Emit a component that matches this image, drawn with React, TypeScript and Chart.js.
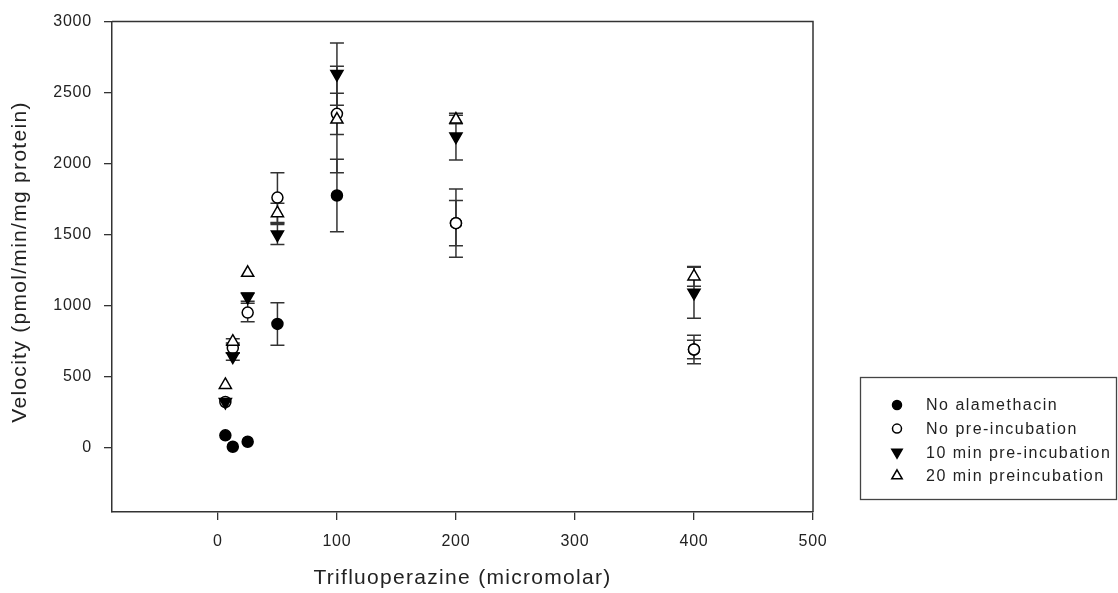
import React, { useEffect, useRef } from 'react';
import { Chart, registerables } from 'chart.js';

Chart.register(...registerables);

// ---- data ----
const concentrations = [6.25, 12.5, 25, 50, 100, 200, 400];

const noAlamethacin = [85, 5, 40, 870, 1775, 1580, 690];
const noAlamethacinErr = [0, 0, 0, 150, 255, 160, 100];

const noPreincubation = [320, 700, 950, 1760, 2350, 1580, 690];
const noPreincubationErr = [0, 35, 65, 175, 145, 240, 65];

const min10Preincubation = [320, 640, 1060, 1500, 2630, 2190, 1090];
const min10PreincubationErr = [0, 25, 30, 70, 220, 165, 180];

const min20Preincubation = [440, 745, 1230, 1650, 2310, 2310, 1205];
const min20PreincubationErr = [0, 20, 0, 70, 375, 30, 70];

const seriesLabels = [
  'No alamethacin',
  'No pre-incubation',
  '10 min pre-incubation',
  '20 min preincubation',
];

const xTickValues = [0, 100, 200, 300, 400, 500];
const yTickValues = [0, 500, 1000, 1500, 2000, 2500, 3000];

const xTitle = 'Trifluoperazine (micromolar)';
const yTitle = 'Velocity (pmol/min/mg protein)';

const FONT = "'Liberation Sans', Arial, sans-serif";
const INK = '#222222';
const AXIS = '#333333';

type Marker = { style: 'circle' | 'triangle'; rotation: number; filled: boolean; radius: number };
const markers: Marker[] = [
  { style: 'circle', rotation: 0, filled: true, radius: 5.5 },
  { style: 'circle', rotation: 0, filled: false, radius: 5.5 },
  { style: 'triangle', rotation: 180, filled: true, radius: 7 },
  { style: 'triangle', rotation: 0, filled: false, radius: 7 },
];

function drawMarker(ctx: CanvasRenderingContext2D, m: Marker, x: number, y: number) {
  ctx.save();
  ctx.beginPath();
  if (m.style === 'circle') {
    ctx.arc(x, y, m.radius, 0, Math.PI * 2);
  } else {
    const r = m.radius;
    let rad = (m.rotation * Math.PI) / 180;
    ctx.moveTo(x + Math.sin(rad) * r, y - Math.cos(rad) * r);
    rad += (2 * Math.PI) / 3;
    ctx.lineTo(x + Math.sin(rad) * r, y - Math.cos(rad) * r);
    rad += (2 * Math.PI) / 3;
    ctx.lineTo(x + Math.sin(rad) * r, y - Math.cos(rad) * r);
    ctx.closePath();
  }
  ctx.fillStyle = m.filled ? '#000000' : '#ffffff';
  ctx.fill();
  ctx.lineWidth = 1.5;
  ctx.strokeStyle = '#000000';
  ctx.stroke();
  ctx.restore();
}

const errors = [noAlamethacinErr, noPreincubationErr, min10PreincubationErr, min20PreincubationErr];

const textSpacingPlugin = {
  id: 'textSpacing',
  beforeDraw(chart: any) {
    (chart.ctx as any).letterSpacing = '0.8px';
  },
};

const errorBarPlugin = {
  id: 'errorBars',
  beforeDatasetsDraw(chart: any) {
    const ctx: CanvasRenderingContext2D = chart.ctx;
    const xs = chart.scales.x;
    const ys = chart.scales.y;
    ctx.save();
    ctx.strokeStyle = AXIS;
    ctx.lineWidth = 1.5;
    chart.data.datasets.forEach((ds: any, i: number) => {
      const err = errors[i];
      ds.data.forEach((p: any, j: number) => {
        const e = err[j];
        if (!e) return;
        const px = xs.getPixelForValue(p.x);
        const top = ys.getPixelForValue(p.y + e);
        const bot = ys.getPixelForValue(p.y - e);
        ctx.beginPath();
        ctx.moveTo(px, top);
        ctx.lineTo(px, bot);
        ctx.moveTo(px - 7, top);
        ctx.lineTo(px + 7, top);
        ctx.moveTo(px - 7, bot);
        ctx.lineTo(px + 7, bot);
        ctx.stroke();
      });
    });
    ctx.restore();
  },
};

const frameAndLegendPlugin = {
  id: 'frameLegend',
  afterDraw(chart: any) {
    const ctx: CanvasRenderingContext2D = chart.ctx;
    const a = chart.chartArea;
    ctx.save();
    ctx.strokeStyle = AXIS;
    ctx.lineWidth = 1.5;
    ctx.beginPath();
    ctx.moveTo(a.left, a.top);
    ctx.lineTo(a.right, a.top);
    ctx.lineTo(a.right, a.bottom);
    ctx.stroke();

    // axis titles
    ctx.fillStyle = INK;
    ctx.font = `21px ${FONT}`;
    (ctx as any).letterSpacing = '1.3px';
    ctx.textAlign = 'center';
    ctx.textBaseline = 'middle';
    ctx.fillText(xTitle, (a.left + a.right) / 2, 578);
    ctx.save();
    ctx.translate(20, 262);
    ctx.rotate(-Math.PI / 2);
    ctx.fillText(yTitle, 0, 0);
    ctx.restore();

    // legend box
    const bx = 860.5;
    const by = 377.5;
    const bw = 256;
    const bh = 122;
    ctx.strokeStyle = '#444444';
    ctx.lineWidth = 1.3;
    ctx.strokeRect(bx, by, bw, bh);
    ctx.font = `16px ${FONT}`;
    (ctx as any).letterSpacing = '1.5px';
    ctx.textBaseline = 'middle';
    ctx.textAlign = 'left';
    seriesLabels.forEach((label, i) => {
      const y = 405 + i * 23.6;
      const m = { ...markers[i], radius: markers[i].style === 'circle' ? 4.5 : 6 };
      drawMarker(ctx, m, 897, y);
      ctx.fillStyle = INK;
      ctx.fillText(label, 926, y + 1);
    });
    ctx.restore();
  },
};

const seriesValues = [noAlamethacin, noPreincubation, min10Preincubation, min20Preincubation];

export default function App() {
  const canvasRef = useRef<HTMLCanvasElement | null>(null);

  useEffect(() => {
    if (!canvasRef.current) return;
    const datasets = seriesValues.map((vals, i) => ({
      label: seriesLabels[i],
      data: vals.map((v, j) => ({ x: concentrations[j], y: v })),
      showLine: false,
      pointStyle: markers[i].style,
      pointRotation: markers[i].rotation,
      pointRadius: markers[i].radius,
      pointHoverRadius: markers[i].radius,
      pointBackgroundColor: markers[i].filled ? '#000000' : '#ffffff',
      pointBorderColor: '#000000',
      pointBorderWidth: 1.5,
      order: 3 - i,
    }));

    const chart = new Chart(canvasRef.current, {
      type: 'scatter',
      data: { datasets },
      plugins: [textSpacingPlugin, errorBarPlugin, frameAndLegendPlugin],
      options: {
        animation: false,
        responsive: true,
        maintainAspectRatio: false,
        layout: { padding: { left: 0, top: 20, right: 305, bottom: 0 } },
        plugins: { legend: { display: false }, tooltip: { enabled: false } },
        scales: {
          x: {
            type: 'linear',
            min: -89,
            max: 500,
            afterBuildTicks: (s: any) => {
              s.ticks = xTickValues.map((v) => ({ value: v }));
            },
            afterFit: (s: any) => {
              s.height = 81;
            },
            grid: {
              display: true,
              drawOnChartArea: false,
              drawTicks: true,
              tickLength: 8,
              color: AXIS,
              lineWidth: 1.3,
            },
            border: { display: true, color: AXIS, width: 1.5 },
            ticks: {
              color: INK,
              font: { family: FONT, size: 16 },
              padding: 12,
              maxRotation: 0,
              autoSkip: false,
              callback: (v: any) => String(v),
            },
          },
          y: {
            type: 'linear',
            min: -455,
            max: 3000,
            afterBuildTicks: (s: any) => {
              s.ticks = yTickValues.map((v) => ({ value: v }));
            },
            afterFit: (s: any) => {
              s.width = 112;
            },
            grid: {
              display: true,
              drawOnChartArea: false,
              drawTicks: true,
              tickLength: 8,
              color: AXIS,
              lineWidth: 1.3,
            },
            border: { display: true, color: AXIS, width: 1.5 },
            ticks: {
              color: INK,
              font: { family: FONT, size: 16 },
              padding: 12,
              autoSkip: false,
              callback: (v: any) => String(v),
            },
          },
        },
      },
    });
    return () => chart.destroy();
  }, []);

  return (
    <div style={{ position: 'absolute', left: 0, top: 0, width: 1118, height: 593, background: '#ffffff' }}>
      <canvas ref={canvasRef} />
    </div>
  );
}
